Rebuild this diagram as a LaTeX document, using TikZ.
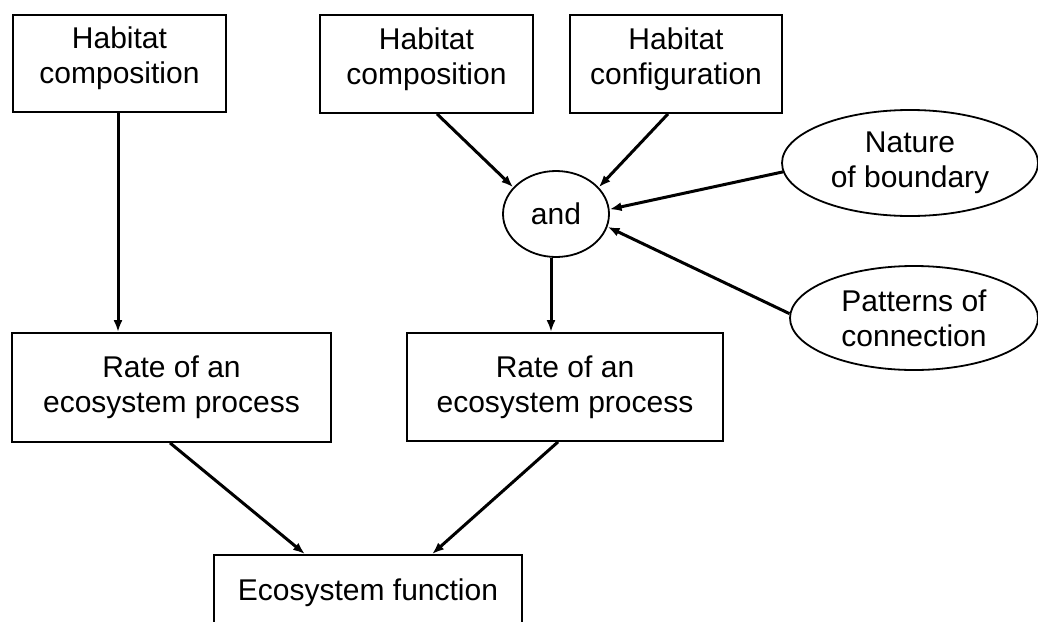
\documentclass[tikz,border=0pt]{standalone}
\usepackage{fontspec}
\setmainfont{Liberation Sans}
\usetikzlibrary{shapes.geometric,arrows.meta}
\tikzset{
  base/.style={font=\fontsize{30}{35}\selectfont, align=center, inner sep=0pt, text=black},
  boxnode/.style={base, draw=black, line width=1.8pt, rectangle},
  ovalnode/.style={base, draw=black, line width=1.8pt, ellipse},
  arr/.style={draw=black, line width=3pt, -{Latex[length=12pt,width=9pt]}},
}
\begin{document}
\begin{tikzpicture}[x=1pt,y=-1pt]
\clip (0,0) rectangle (1038,621);
\fill[white] (0,0) rectangle (1038,621);
% top boxes
\node[boxnode, minimum width=213pt, minimum height=97pt, text depth=16pt] (hc1) at (119.5,63.5) {Habitat\\composition};
\node[boxnode, minimum width=213pt, minimum height=98pt, text depth=16pt] (hc2) at (426.5,64) {Habitat\\composition};
\node[boxnode, minimum width=212pt, minimum height=98pt, text depth=16pt] (hcf) at (676,64) {Habitat\\configuration};
% ellipses
\node[ovalnode, minimum width=106pt, minimum height=86pt] (and) at (556,214) {and};
\node[ovalnode, minimum width=256pt, minimum height=106pt] (nat) at (910,163) {Nature\\of boundary};
\node[ovalnode, minimum width=248pt, minimum height=104pt] (pat) at (914,318) {Patterns of\\connection};
% rate boxes
\node[boxnode, minimum width=319pt, minimum height=109pt] (r1) at (171.5,387.5) {Rate of an\\ecosystem process};
\node[boxnode, minimum width=316pt, minimum height=108pt] (r2) at (565,387) {Rate of an\\ecosystem process};
% bottom box
\node[boxnode, minimum width=308pt, minimum height=76pt] (eco) at (368,593) {Ecosystem function};
% connectors
\draw[arr] ([xshift=-1.5pt]hc1.south) -- ([xshift=-1.5pt]hc1.south |- r1.north);
\draw[arr] ([xshift=10.5pt]hc2.south) -- (and.148);
\draw[arr] ([xshift=-8pt]hcf.south) -- (and.32);
\draw[arr] (nat.184) -- (and.5);
\draw[arr] (pat.178) -- (and.346);
\draw[arr] ([xshift=-5pt]and.south) -- ([xshift=-5pt]and.south |- r2.north);
\draw[arr] ([xshift=-1.5pt]r1.south) -- ([xshift=-63pt]eco.north);
\draw[arr] ([xshift=-7pt]r2.south) -- ([xshift=64pt]eco.north);
\end{tikzpicture}
\end{document}
